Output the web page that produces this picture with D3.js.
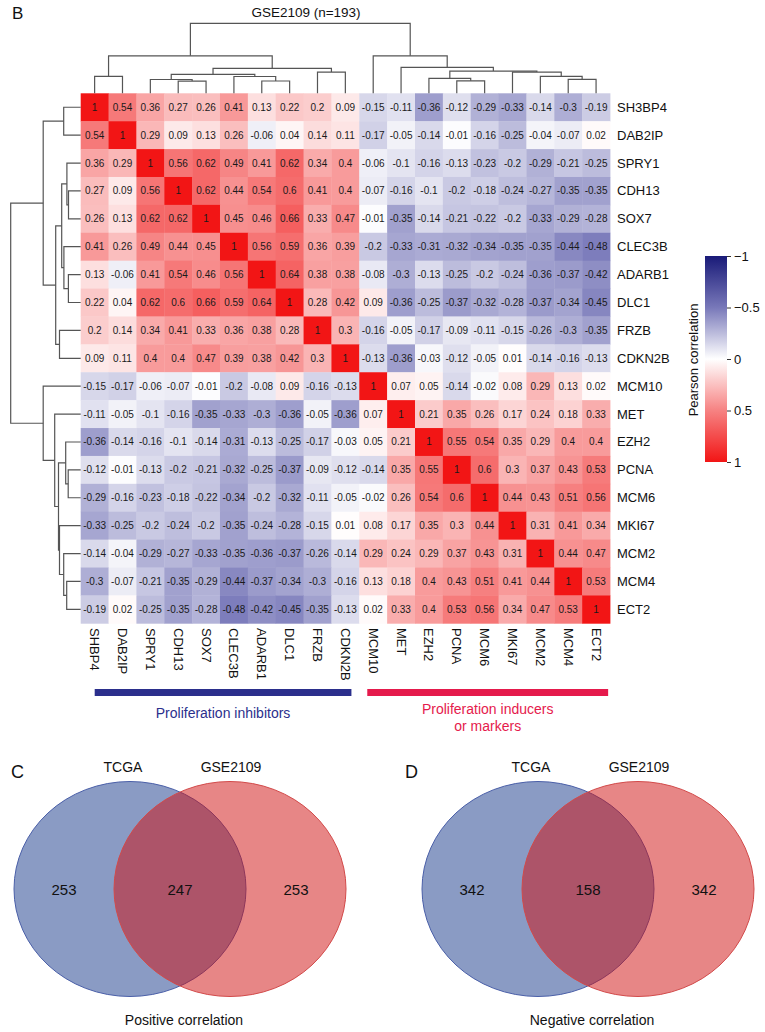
<!DOCTYPE html>
<html>
<head>
<meta charset="utf-8">
<script src="https://cdn.jsdelivr.net/npm/d3@7"></script>
<style>
  body { margin: 0; background: #fff; }
  svg { display: block; }
  text { font-family: "Liberation Sans", Arial, Helvetica, sans-serif; fill: #111; }
</style>
</head>
<body>
<svg width="765" height="1032"></svg>
<script>

// DATA

var rowGenes = ["SH3BP4", "DAB2IP", "SPRY1", "CDH13", "SOX7", "CLEC3B", "ADARB1", "DLC1", "FRZB", "CDKN2B",
                "MCM10", "MET", "EZH2", "PCNA", "MCM6", "MKI67", "MCM2", "MCM4", "ECT2"];
// the column labels carry the typo of the figure ("SHBP4")
var colGenes = ["SHBP4", "DAB2IP", "SPRY1", "CDH13", "SOX7", "CLEC3B", "ADARB1", "DLC1", "FRZB", "CDKN2B",
                "MCM10", "MET", "EZH2", "PCNA", "MCM6", "MKI67", "MCM2", "MCM4", "ECT2"];

// Pearson correlation, row by row
var corr = [
  [1, 0.54, 0.36, 0.27, 0.26, 0.41, 0.13, 0.22, 0.2, 0.09, -0.15, -0.11, -0.36, -0.12, -0.29, -0.33, -0.14, -0.3, -0.19],
  [0.54, 1, 0.29, 0.09, 0.13, 0.26, -0.06, 0.04, 0.14, 0.11, -0.17, -0.05, -0.14, -0.01, -0.16, -0.25, -0.04, -0.07, 0.02],
  [0.36, 0.29, 1, 0.56, 0.62, 0.49, 0.41, 0.62, 0.34, 0.4, -0.06, -0.1, -0.16, -0.13, -0.23, -0.2, -0.29, -0.21, -0.25],
  [0.27, 0.09, 0.56, 1, 0.62, 0.44, 0.54, 0.6, 0.41, 0.4, -0.07, -0.16, -0.1, -0.2, -0.18, -0.24, -0.27, -0.35, -0.35],
  [0.26, 0.13, 0.62, 0.62, 1, 0.45, 0.46, 0.66, 0.33, 0.47, -0.01, -0.35, -0.14, -0.21, -0.22, -0.2, -0.33, -0.29, -0.28],
  [0.41, 0.26, 0.49, 0.44, 0.45, 1, 0.56, 0.59, 0.36, 0.39, -0.2, -0.33, -0.31, -0.32, -0.34, -0.35, -0.35, -0.44, -0.48],
  [0.13, -0.06, 0.41, 0.54, 0.46, 0.56, 1, 0.64, 0.38, 0.38, -0.08, -0.3, -0.13, -0.25, -0.2, -0.24, -0.36, -0.37, -0.42],
  [0.22, 0.04, 0.62, 0.6, 0.66, 0.59, 0.64, 1, 0.28, 0.42, 0.09, -0.36, -0.25, -0.37, -0.32, -0.28, -0.37, -0.34, -0.45],
  [0.2, 0.14, 0.34, 0.41, 0.33, 0.36, 0.38, 0.28, 1, 0.3, -0.16, -0.05, -0.17, -0.09, -0.11, -0.15, -0.26, -0.3, -0.35],
  [0.09, 0.11, 0.4, 0.4, 0.47, 0.39, 0.38, 0.42, 0.3, 1, -0.13, -0.36, -0.03, -0.12, -0.05, 0.01, -0.14, -0.16, -0.13],
  [-0.15, -0.17, -0.06, -0.07, -0.01, -0.2, -0.08, 0.09, -0.16, -0.13, 1, 0.07, 0.05, -0.14, -0.02, 0.08, 0.29, 0.13, 0.02],
  [-0.11, -0.05, -0.1, -0.16, -0.35, -0.33, -0.3, -0.36, -0.05, -0.36, 0.07, 1, 0.21, 0.35, 0.26, 0.17, 0.24, 0.18, 0.33],
  [-0.36, -0.14, -0.16, -0.1, -0.14, -0.31, -0.13, -0.25, -0.17, -0.03, 0.05, 0.21, 1, 0.55, 0.54, 0.35, 0.29, 0.4, 0.4],
  [-0.12, -0.01, -0.13, -0.2, -0.21, -0.32, -0.25, -0.37, -0.09, -0.12, -0.14, 0.35, 0.55, 1, 0.6, 0.3, 0.37, 0.43, 0.53],
  [-0.29, -0.16, -0.23, -0.18, -0.22, -0.34, -0.2, -0.32, -0.11, -0.05, -0.02, 0.26, 0.54, 0.6, 1, 0.44, 0.43, 0.51, 0.56],
  [-0.33, -0.25, -0.2, -0.24, -0.2, -0.35, -0.24, -0.28, -0.15, 0.01, 0.08, 0.17, 0.35, 0.3, 0.44, 1, 0.31, 0.41, 0.34],
  [-0.14, -0.04, -0.29, -0.27, -0.33, -0.35, -0.36, -0.37, -0.26, -0.14, 0.29, 0.24, 0.29, 0.37, 0.43, 0.31, 1, 0.44, 0.47],
  [-0.3, -0.07, -0.21, -0.35, -0.29, -0.44, -0.37, -0.34, -0.3, -0.16, 0.13, 0.18, 0.4, 0.43, 0.51, 0.41, 0.44, 1, 0.53],
  [-0.19, 0.02, -0.25, -0.35, -0.28, -0.48, -0.42, -0.45, -0.35, -0.13, 0.02, 0.33, 0.4, 0.53, 0.56, 0.34, 0.47, 0.53, 1]
];

// hclust style merges: negative = leaf (-1 is the first gene), positive = earlier merge (1-based)
var mergeA = [-1, -4, -3, -7, -6, 3, -9, 6, 1, -14, -13, -18, -17, -16, 11, -12, -11, 9];
var mergeB = [-2, -5, 2, -8, 4, 5, -10, 7, 8, -15, 10, -19, 12, 13, 14, 15, 16, 17];
var mergeHeight = [0.34, 0.244, 0.276, 0.246, 0.336, 0.38, 0.424, 0.5, 0.75,
                   0.25, 0.3, 0.28, 0.34, 0.424, 0.444, 0.52, 0.75, 1.4];

var legendTicks = [-1, -0.5, 0, 0.5, 1];

var groupLabels = [["Proliferation inhibitors"], ["Proliferation inducers", "or markers"]];
var groupFirst = [0, 10];
var groupLast = [9, 18];

var vennLetters = ["C", "D"];
var vennSets = ["TCGA", "GSE2109"];
var vennCounts = [[253, 247, 253], [342, 158, 342]];
var vennCaptions = ["Positive correlation", "Negative correlation"];


// HEATMAP

var svg = d3.select("svg");
var n = rowGenes.length;

var x = d3.scaleBand().domain(d3.range(n)).range([80.7, 610]);
var y = d3.scaleBand().domain(d3.range(n)).range([93.3, 623.3]);

var color = d3.scaleLinear()
    .domain([-1, -0.5, 0, 0.5, 1])
    .range(["#191a78", "#7878b9", "#ffffff", "#f68282", "#f21515"]);

var cells = [];
corr.forEach(function(row, i) {
  row.forEach(function(v, j) { cells.push({i: i, j: j, v: v}); });
});

svg.append("g").selectAll("rect")
    .data(cells)
  .join("rect")
    .attr("x", function(d) { return x(d.j); })
    .attr("y", function(d) { return y(d.i); })
    .attr("width", x.bandwidth() + 0.4)
    .attr("height", y.bandwidth() + 0.4)
    .attr("fill", function(d) { return color(d.v); });

svg.append("g").selectAll("text")
    .data(cells)
  .join("text")
    .attr("x", function(d) { return x(d.j) + x.bandwidth() / 2; })
    .attr("y", function(d) { return y(d.i) + y.bandwidth() / 2; })
    .attr("text-anchor", "middle")
    .attr("dominant-baseline", "central")
    .style("font-size", "10px")
    .style("fill", "#1a1a1a")
    .text(function(d) { return String(d.v); });

// row labels
svg.append("g").selectAll("text")
    .data(rowGenes)
  .join("text")
    .attr("x", 617)
    .attr("y", function(d, i) { return y(i) + y.bandwidth() / 2; })
    .attr("dominant-baseline", "central")
    .style("font-size", "13px")
    .text(function(d) { return d; });

// column labels, turned a quarter clockwise
svg.append("g").selectAll("text")
    .data(colGenes)
  .join("text")
    .attr("transform", function(d, i) {
      return "translate(" + (x(i) + x.bandwidth() / 2) + ",628) rotate(90)";
    })
    .attr("dominant-baseline", "central")
    .style("font-size", "13px")
    .text(function(d) { return d; });


// DENDROGRAMS

var hScale = d3.scaleLinear().domain([0, 1.4]).range([0, 70]);

// position (mean of children) and height of a node
function nodeInfo(k, pos) {
  if (k < 0) return {p: pos(-k - 1), h: 0};
  var a = nodeInfo(mergeA[k - 1], pos),
      b = nodeInfo(mergeB[k - 1], pos);
  return {p: (a.p + b.p) / 2, h: mergeHeight[k - 1]};
}

var colPos = function(i) { return x(i) + x.bandwidth() / 2; };
var rowPos = function(i) { return y(i) + y.bandwidth() / 2; };
var top0 = y.range()[0], left0 = x.range()[0];

var dendro = svg.append("g")
    .attr("fill", "none")
    .attr("stroke", "#555")
    .attr("stroke-width", 1.2);

mergeHeight.forEach(function(h, m) {
  var a = nodeInfo(mergeA[m], colPos), b = nodeInfo(mergeB[m], colPos);
  dendro.append("path").attr("d",
      "M" + a.p + "," + (top0 - hScale(a.h)) +
      "V" + (top0 - hScale(h)) +
      "H" + b.p +
      "V" + (top0 - hScale(b.h)));

  var ra = nodeInfo(mergeA[m], rowPos), rb = nodeInfo(mergeB[m], rowPos);
  dendro.append("path").attr("d",
      "M" + (left0 - hScale(ra.h)) + "," + ra.p +
      "H" + (left0 - hScale(h)) +
      "V" + rb.p +
      "H" + (left0 - hScale(rb.h)));
});

// titles
svg.append("text")
    .attr("x", 12).attr("y", 19)
    .style("font-size", "17px")
    .text("B");

svg.append("text")
    .attr("x", 306).attr("y", 17)
    .attr("text-anchor", "middle")
    .style("font-size", "13.5px")
    .text("GSE2109 (n=193)");


// COLOUR KEY

var keyScale = d3.scaleLinear().domain([-1, 1]).range([256, 462]);

var grad = svg.append("defs").append("linearGradient")
    .attr("id", "keyGrad")
    .attr("x1", 0).attr("y1", 0).attr("x2", 0).attr("y2", 1);
grad.selectAll("stop")
    .data(d3.range(-1, 1.0001, 0.1))
  .join("stop")
    .attr("offset", function(d) { return (d + 1) / 2; })
    .attr("stop-color", function(d) { return color(d); });

svg.append("rect")
    .attr("x", 705).attr("y", keyScale(-1))
    .attr("width", 22).attr("height", keyScale(1) - keyScale(-1))
    .attr("fill", "url(#keyGrad)");

var keyAxis = svg.append("g")
    .attr("transform", "translate(727,0)")
    .call(d3.axisRight(keyScale).tickValues(legendTicks).tickSize(4).tickPadding(3).tickFormat(d3.format("")));
keyAxis.select(".domain").remove();
keyAxis.selectAll("line").attr("stroke", "#333");
keyAxis.selectAll("text").style("font-size", "13px").style("font-family", null);

svg.append("text")
    .attr("transform", "translate(693,360) rotate(-90)")
    .attr("text-anchor", "middle")
    .attr("dominant-baseline", "central")
    .style("font-size", "13px")
    .text("Pearson correlation");


// GROUP BARS

var groupColors = ["#2b2f8c", "#e51a4c"];
var groupStart = [14, 8], groupEnd = [20, 26];

groupLabels.forEach(function(lines, g) {
  var x1 = x(groupFirst[g]) + groupStart[g],
      x2 = x(groupLast[g]) + groupEnd[g];
  svg.append("rect")
      .attr("x", x1).attr("y", 689)
      .attr("width", x2 - x1).attr("height", 7)
      .attr("fill", groupColors[g]);
  svg.append("text")
      .attr("x", (x1 + x2) / 2 - (g === 0 ? 0 : 0))
      .attr("y", g === 0 ? 718 : 714)
      .attr("text-anchor", "middle")
      .style("font-size", "14px")
      .style("fill", groupColors[g])
      .selectAll("tspan")
      .data(lines)
    .join("tspan")
      .attr("x", (x1 + x2) / 2)
      .attr("dy", function(d, i) { return i ? 17 : 0; })
      .text(function(d) { return d; });
});


// VENN DIAGRAMS

var vennCx = [130, 538], vennSep = 100, rx = 116, ry = 107.5, vennCy = 889;
var setFill = ["#153789", "#cf0d0d"], setStroke = ["#4a5fa8", "#d24a4a"];

vennLetters.forEach(function(letter, p) {
  var cl = vennCx[p], cr = cl + vennSep;
  var g = svg.append("g");

  g.selectAll("ellipse")
      .data([cl, cr])
    .join("ellipse")
      .attr("cx", function(d) { return d; })
      .attr("cy", vennCy)
      .attr("rx", rx).attr("ry", ry)
      .attr("fill", function(d, i) { return setFill[i]; })
      .attr("fill-opacity", 0.5)
      .attr("stroke", function(d, i) { return setStroke[i]; })
      .attr("stroke-width", 1);

  // left only, both, right only
  var numX = [((cl - rx) + (cr - rx)) / 2, (cl + cr) / 2, ((cl + rx) + (cr + rx)) / 2];
  g.selectAll("text.count")
      .data(vennCounts[p])
    .join("text")
      .attr("class", "count")
      .attr("x", function(d, i) { return numX[i]; })
      .attr("y", vennCy + 6)
      .attr("text-anchor", "middle")
      .style("font-size", "15px")
      .text(function(d) { return d; });

  g.selectAll("text.set")
      .data(vennSets)
    .join("text")
      .attr("class", "set")
      .attr("x", function(d, i) { return i ? cr + 1 : cl - 7; })
      .attr("y", 772)
      .attr("text-anchor", "middle")
      .style("font-size", "14px")
      .text(function(d) { return d; });

  g.append("text")
      .attr("x", cl - 119 - p * 14)
      .attr("y", 778)
      .style("font-size", "18px")
      .text(letter);

  g.append("text")
      .attr("x", (cl + cr) / 2 + 4)
      .attr("y", 1025)
      .attr("text-anchor", "middle")
      .style("font-size", "14px")
      .text(vennCaptions[p]);
});

</script>
</body>
</html>
